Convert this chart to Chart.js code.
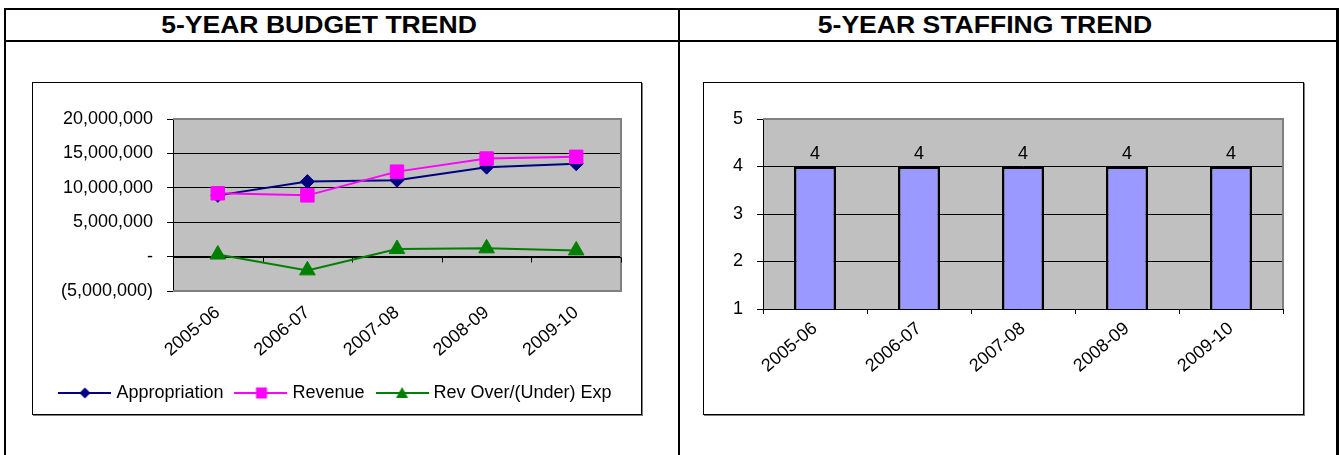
<!DOCTYPE html>
<html>
<head>
<meta charset="utf-8">
<script src="https://cdn.jsdelivr.net/npm/chart.js@4"></script>
<style>
  body { margin: 0; background: #fff; }
  #page { position: relative; width: 1340px; height: 455px; overflow: hidden; font-family: "Liberation Sans", Arial, sans-serif; }
  .rule { position: absolute; background: #000; }
  .title { position: absolute; top: 9px; height: 32px; line-height: 32px; font-weight: bold; font-size: 23.5px; white-space: nowrap; transform: translateX(-50%) scaleX(1.13); }
  .frame { position: absolute; top: 82px; height: 331px; border: 1px solid #000; box-shadow: 1px 1px 0 #808080; }
  .frame canvas { display: block; }
</style>
</head>
<body>
<div id="page">
  <div class="rule" style="left:4px;top:8px;width:1335px;height:2px"></div>
  <div class="rule" style="left:4px;top:40px;width:1335px;height:2px"></div>
  <div class="rule" style="left:4px;top:8px;width:2px;height:460px"></div>
  <div class="rule" style="left:678px;top:8px;width:2px;height:460px"></div>
  <div class="rule" style="left:1336px;top:8px;width:3px;height:460px"></div>

  <div class="title" style="left:319px">5-YEAR BUDGET TREND</div>
  <div class="title" style="left:985px">5-YEAR STAFFING TREND</div>

  <div class="frame" style="left:32px;width:608px"><canvas id="budgetChart" width="608" height="331"></canvas></div>
  <div class="frame" style="left:703px;width:599px"><canvas id="staffChart" width="599" height="331"></canvas></div>
</div>

<script>
// data
const years = ['2005-06', '2006-07', '2007-08', '2008-09', '2009-10'];
const appropriation = [8900000, 10900000, 11100000, 13000000, 13500000];
const revenue = [9200000, 8900000, 12350000, 14250000, 14500000];
const revOverUnder = [300000, -2000000, 1100000, 1200000, 900000];
const staffing = [4, 4, 4, 4, 4];

const FONT = 18;
Chart.defaults.font.family = '"Liberation Sans", Arial, sans-serif';
Chart.defaults.font.size = FONT;
Chart.defaults.color = '#000';

// gray plot area + border, zero line ticks
const plotFrame = {
  id: 'plotFrame',
  beforeDraw(chart) {
    const { ctx, chartArea: a } = chart;
    ctx.save();
    ctx.fillStyle = '#c0c0c0';
    ctx.fillRect(a.left, a.top, a.right - a.left, a.bottom - a.top);
    ctx.restore();
  },
  beforeDatasetsDraw(chart, args, opts) {
    const { ctx, chartArea: a } = chart;
    ctx.save();
    ctx.strokeStyle = '#808080';
    ctx.lineWidth = 2;
    ctx.beginPath();
    ctx.moveTo(a.left, a.top);
    ctx.lineTo(a.right, a.top);
    ctx.lineTo(a.right, a.bottom);
    if (opts.bottom) ctx.lineTo(a.left, a.bottom);
    ctx.stroke();
    if (opts.zeroTicks) {
      const x = chart.scales.x, y0 = Math.round(chart.scales.y.getPixelForValue(0)) + 0.5;
      const step = (x.right - x.left) / years.length;
      ctx.strokeStyle = '#000';
      ctx.lineWidth = 1;
      ctx.beginPath();
      ctx.moveTo(a.left, y0);
      ctx.lineTo(a.right, y0);
      for (let i = 0; i <= years.length; i++) {
        const px = Math.round(x.left + i * step) + 0.5;
        ctx.moveTo(px, y0);
        ctx.lineTo(px, y0 + 5);
      }
      ctx.stroke();
    }
    ctx.restore();
  }
};

const barLabels = {
  id: 'barLabels',
  afterDatasetsDraw(chart) {
    const { ctx } = chart;
    const meta = chart.getDatasetMeta(0);
    ctx.save();
    ctx.font = FONT + 'px "Liberation Sans", Arial, sans-serif';
    ctx.fillStyle = '#000';
    ctx.textAlign = 'center';
    ctx.textBaseline = 'bottom';
    meta.data.forEach((bar, i) => {
      ctx.fillText(String(chart.data.datasets[0].data[i]), bar.x, bar.y - 3);
    });
    ctx.restore();
  }
};

function legendIcon(color, shape) {
  const c = document.createElement('canvas');
  c.width = 53; c.height = 16;
  const g = c.getContext('2d');
  g.strokeStyle = color; g.fillStyle = color; g.lineWidth = 2;
  g.beginPath(); g.moveTo(0, 8); g.lineTo(53, 8); g.stroke();
  g.beginPath();
  if (shape === 'diamond') {
    g.moveTo(26.5, 2.5); g.lineTo(32, 8); g.lineTo(26.5, 13.5); g.lineTo(21, 8);
  } else if (shape === 'square') {
    g.rect(21.5, 2.5, 11, 11);
  } else {
    g.moveTo(26.5, 2); g.lineTo(32.5, 13); g.lineTo(20.5, 13);
  }
  g.closePath(); g.fill();
  return c;
}

const budgetIcons = [
  legendIcon('#000080', 'diamond'),
  legendIcon('#ff00ff', 'square'),
  legendIcon('#008000', 'triangle')
];

function fmtBudget(v) {
  if (v === 0) return '-';
  const s = Math.abs(v).toLocaleString('en-US');
  return v < 0 ? '(' + s + ')' : s;
}

new Chart(document.getElementById('budgetChart'), {
  type: 'line',
  data: {
    labels: years,
    datasets: [
      { label: 'Appropriation', data: appropriation, borderColor: '#000080', backgroundColor: '#000080',
        borderWidth: 2, pointStyle: 'rectRot', pointRadius: 7, pointBorderWidth: 1, order: 3 },
      { label: 'Revenue', data: revenue, borderColor: '#ff00ff', backgroundColor: '#ff00ff',
        borderWidth: 2, pointStyle: 'rect', pointRadius: 9.5, pointBorderWidth: 1, order: 2 },
      { label: 'Rev Over/(Under) Exp', data: revOverUnder, borderColor: '#008000', backgroundColor: '#008000',
        borderWidth: 2, pointStyle: 'triangle', pointRadius: 9, pointBorderWidth: 1, order: 1 }
    ]
  },
  options: {
    responsive: false,
    animation: false,
    events: [],
    layout: { padding: { top: 36, right: 0, bottom: 2, left: 0 } },
    plugins: {
      plotFrame: { bottom: true, zeroTicks: true },
      tooltip: { enabled: false },
      legend: {
        position: 'bottom',
        labels: {
          usePointStyle: true,
          pointStyleWidth: 45,
          padding: 15,
          font: { size: FONT },
          generateLabels: chart => chart.data.datasets.map((ds, i) => ({
            text: ds.label, pointStyle: budgetIcons[i], fillStyle: ds.borderColor,
            strokeStyle: ds.borderColor, lineWidth: 0, hidden: false, datasetIndex: i, fontColor: '#000'
          }))
        }
      }
    },
    scales: {
      x: {
        offset: true,
        grid: { display: false },
        border: { display: false },
        ticks: { minRotation: 40, maxRotation: 40, padding: 3, font: { size: FONT } },
        afterFit: s => { s.height = 78; }
      },
      y: {
        min: -5000000, max: 20000000,
        ticks: { stepSize: 5000000, padding: 14, callback: fmtBudget, font: { size: FONT } },
        grid: { color: '#000', lineWidth: 1, tickLength: 6 },
        border: { color: '#000', width: 1 },
        afterFit: s => { s.width = 140; }
      },
      // empty spacer on the right so the legend centres on the whole frame
      spacer: {
        type: 'linear', position: 'right', display: true,
        grid: { display: false }, border: { display: false }, ticks: { display: false },
        afterFit: s => { s.width = 20; }
      }
    }
  },
  plugins: [plotFrame]
});

new Chart(document.getElementById('staffChart'), {
  type: 'bar',
  data: {
    labels: years,
    datasets: [
      { label: 'Staffing', data: staffing, backgroundColor: '#9999ff', borderColor: '#000',
        borderWidth: 2.5, borderSkipped: false, barPercentage: 0.404, categoryPercentage: 1 }
    ]
  },
  options: {
    responsive: false,
    animation: false,
    events: [],
    layout: { padding: { top: 36, right: 20, bottom: 0, left: 0 } },
    plugins: {
      plotFrame: { bottom: false, zeroTicks: false },
      tooltip: { enabled: false },
      legend: { display: false }
    },
    scales: {
      x: {
        offset: true,
        grid: { display: true, drawOnChartArea: false, color: '#000', tickLength: 5, offset: true },
        border: { color: '#000', width: 1 },
        ticks: { minRotation: 40, maxRotation: 40, padding: 4, font: { size: FONT } },
        afterFit: s => { s.height = 105; }
      },
      y: {
        min: 1, max: 5,
        ticks: { stepSize: 1, padding: 14, font: { size: FONT } },
        grid: { color: '#000', lineWidth: 1, tickLength: 6 },
        border: { color: '#000', width: 1 },
        afterFit: s => { s.width = 59; }
      }
    }
  },
  plugins: [plotFrame, barLabels]
});
</script>
</body>
</html>
